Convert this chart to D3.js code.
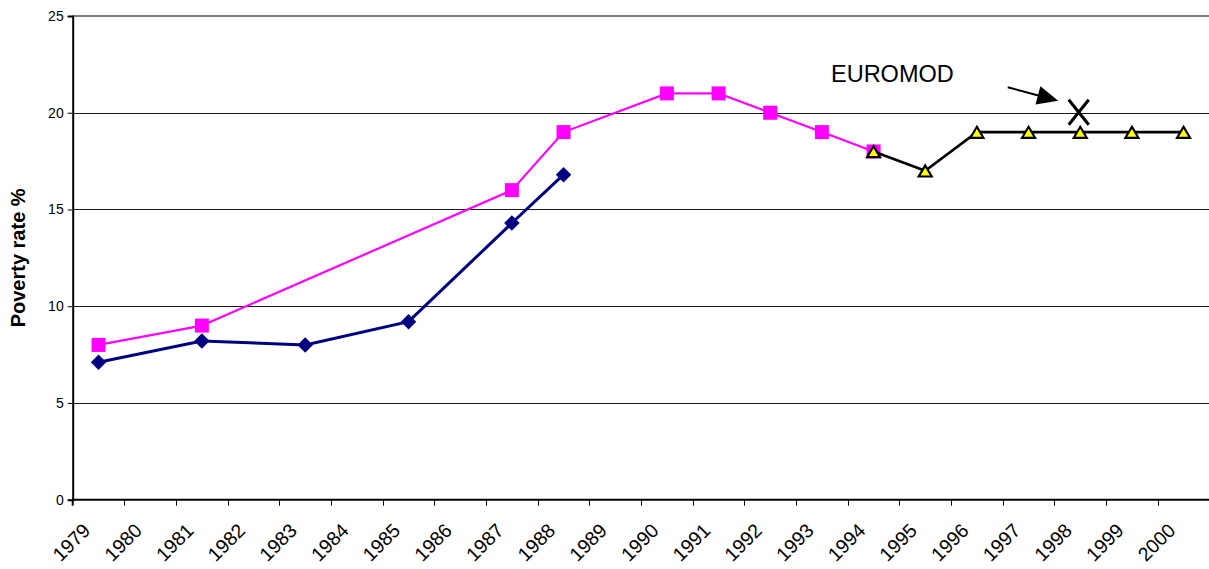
<!DOCTYPE html>
<html>
<head>
<meta charset="utf-8">
<script src="https://cdn.jsdelivr.net/npm/d3@7"></script>
<style>
  html, body { margin: 0; padding: 0; background: #fff; }
  svg { display: block; font-family: Arial, "Liberation Sans", sans-serif; }
</style>
</head>
<body>
<svg id="chart" width="1209" height="569"></svg>
<script>
// ---- data ----
const years = ["1979","1980","1981","1982","1983","1984","1985","1986","1987","1988","1989",
               "1990","1991","1992","1993","1994","1995","1996","1997","1998","1999","2000"];
const seriesNavy = [7.1, null, 8.2, null, 8.0, null, 9.2, null, 14.3, 16.8, null,
                    null, null, null, null, null, null, null, null, null, null, null];
const seriesPink = [8.0, null, 9.0, null, null, null, null, null, 16.0, 19.0, null,
                    21.0, 21.0, 20.0, 19.0, 18.0, null, null, null, null, null, null];
const seriesBlack = [null, null, null, null, null, null, null, null, null, null, null,
                     null, null, null, null, 18.0, 17.0, 19.0, 19.0, 19.0, 19.0, 19.0];
const seriesEuromod = [null, null, null, null, null, null, null, null, null, null, null,
                       null, null, null, null, null, null, null, null, 20.0, null, null];
const yTicks = [0, 5, 10, 15, 20, 25];
const yTitle = "Poverty rate %";
const annotationText = "EUROMOD";

// ---- layout ----
const svg = d3.select("#chart");
const plotLeft = 72.7, plotRight = 1209.4, plotTop = 16, plotBottom = 499.7;

const x = d3.scaleBand().domain(years).range([plotLeft, plotRight]).padding(0);
const y = d3.scaleLinear().domain([0, 25]).range([plotBottom, plotTop]);
const cx = d => x(d) + x.bandwidth() / 2;

// gridlines
svg.append("g").selectAll("line")
  .data(yTicks.filter(t => t > 0 && t < 25))
  .join("line")
  .attr("x1", plotLeft).attr("x2", plotRight)
  .attr("y1", d => Math.round(y(d)) + 0.5).attr("y2", d => Math.round(y(d)) + 0.5)
  .attr("stroke", "#1a1a1a").attr("stroke-width", 1);

// top border
svg.append("line")
  .attr("x1", plotLeft).attr("x2", plotRight)
  .attr("y1", y(25)).attr("y2", y(25))
  .attr("stroke", "#808080").attr("stroke-width", 2);

// y axis
const yAxis = d3.axisLeft(y).tickValues(yTicks).tickSize(5).tickPadding(4);
const gy = svg.append("g").attr("transform", `translate(${plotLeft},0)`).call(yAxis);
gy.select(".domain").attr("stroke", "#000").attr("stroke-width", 2);
gy.selectAll(".tick line").attr("stroke", "#000");
gy.selectAll(".tick text").attr("font-size", 14).attr("fill", "#000")
  .attr("font-family", "Arial, 'Liberation Sans', sans-serif");

// x axis (ticks at category boundaries)
const gx = svg.append("g");
gx.append("line").attr("x1", plotLeft).attr("x2", plotRight)
  .attr("y1", plotBottom).attr("y2", plotBottom)
  .attr("stroke", "#000").attr("stroke-width", 2);
gx.selectAll("line.tk").data(years.concat(["__end"]))
  .join("line").attr("class", "tk")
  .attr("x1", d => d === "__end" ? Math.round(plotRight) + 0.5 : (d === years[0] ? plotLeft : Math.round(x(d)) + 0.5))
  .attr("x2", d => d === "__end" ? Math.round(plotRight) + 0.5 : (d === years[0] ? plotLeft : Math.round(x(d)) + 0.5))
  .attr("y1", plotBottom).attr("y2", plotBottom + 6)
  .attr("stroke", "#000").attr("stroke-width", d => d === years[0] ? 2 : 1);
gx.selectAll("text").data(years).join("text")
  .attr("transform", d => `translate(${cx(d) - 7},${plotBottom + 32}) rotate(-45)`)
  .attr("text-anchor", "end")
  .attr("font-size", 19.5)
  .attr("fill", "#000")
  .text(d => d);

// y title
svg.append("text")
  .attr("transform", `translate(25,${(plotTop + plotBottom) / 2}) rotate(-90)`)
  .attr("text-anchor", "middle")
  .attr("font-size", 20).attr("font-weight", "bold")
  .text(yTitle);

// series helpers
function pts(arr) { return years.map((yr, i) => ({ yr, v: arr[i] })).filter(p => p.v != null); }
const line = d3.line().x(p => cx(p.yr)).y(p => y(p.v));

// navy series
const navy = pts(seriesNavy);
svg.append("path").attr("d", line(navy)).attr("fill", "none")
  .attr("stroke", "#000080").attr("stroke-width", 3);
svg.append("g").selectAll("path").data(navy).join("path")
  .attr("d", d3.symbol(d3.symbolSquare, 120)())
  .attr("transform", p => `translate(${cx(p.yr)},${y(p.v)}) rotate(45)`)
  .attr("fill", "#000080");

// pink series
const pink = pts(seriesPink);
svg.append("path").attr("d", line(pink)).attr("fill", "none")
  .attr("stroke", "#FF00FF").attr("stroke-width", 2.2);
svg.append("g").selectAll("path").data(pink).join("path")
  .attr("d", d3.symbol(d3.symbolSquare, 196)())
  .attr("transform", p => `translate(${cx(p.yr)},${y(p.v)})`)
  .attr("fill", "#FF00FF");

// black series with yellow triangles
const blk = pts(seriesBlack);
svg.append("path").attr("d", line(blk)).attr("fill", "none")
  .attr("stroke", "#000").attr("stroke-width", 2.6);
svg.append("g").selectAll("path").data(blk).join("path")
  .attr("d", "M0,-5.8L6.5,5.2L-6.5,5.2Z")
  .attr("transform", p => `translate(${cx(p.yr)},${y(p.v) + 0.5})`)
  .attr("fill", "#FFFF00").attr("stroke", "#000").attr("stroke-width", 2.2)
  .attr("stroke-linejoin", "miter");

// EUROMOD X marker
const eu = pts(seriesEuromod);
svg.append("g").selectAll("path").data(eu).join("path")
  .attr("d", "M-10,-12.5L10,12.5M10,-12.5L-10,12.5")
  .attr("transform", p => `translate(${cx(p.yr) - 1.5},${y(p.v) - 0.5})`)
  .attr("stroke", "#000").attr("stroke-width", 3).attr("fill", "none");

// annotation text and arrow pointing at the EUROMOD point
const ex = cx(eu[0].yr), ey = y(eu[0].v);
svg.append("text").attr("x", 831).attr("y", 82).attr("font-size", 23.5).attr("fill", "#000")
  .text(annotationText);
const tip = [ex - 22, ey - 12];
const start = [ex - 72.5, ey - 25.5];
svg.append("line").attr("x1", start[0]).attr("y1", start[1])
  .attr("x2", tip[0] - 18).attr("y2", tip[1] - 4.8)
  .attr("stroke", "#000").attr("stroke-width", 2);
// arrowhead
const ang = Math.atan2(tip[1] - start[1], tip[0] - start[0]);
const hl = 21, hw = 9.5;
const bx = tip[0] - hl * Math.cos(ang), by = tip[1] - hl * Math.sin(ang);
svg.append("path")
  .attr("d", `M${tip[0]},${tip[1]}L${bx - hw * Math.sin(ang)},${by + hw * Math.cos(ang)}L${bx + hw * Math.sin(ang)},${by - hw * Math.cos(ang)}Z`)
  .attr("fill", "#000");
</script>
</body>
</html>
